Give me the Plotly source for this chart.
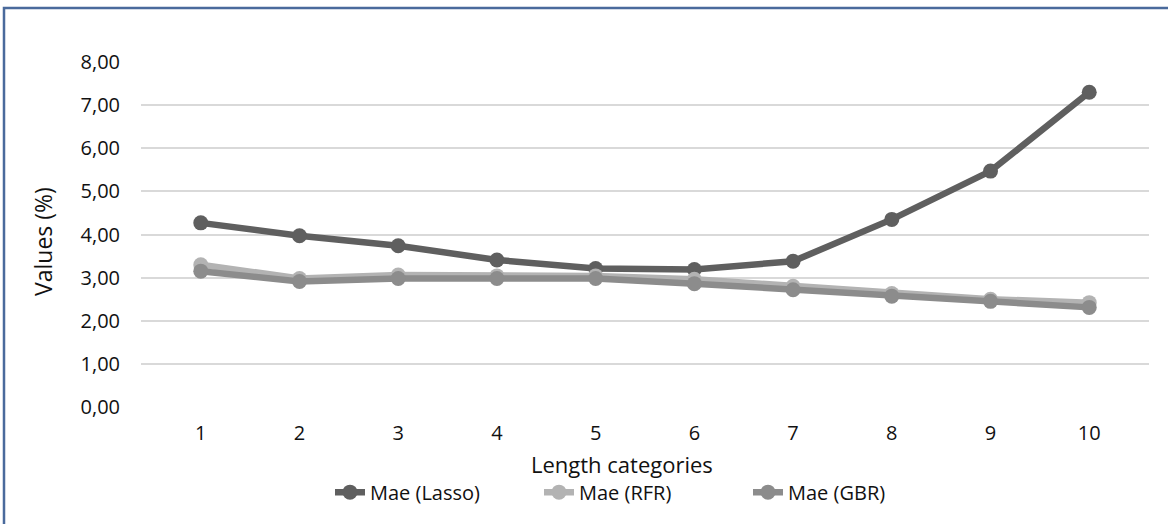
import plotly.graph_objects as go

categories = ["1", "2", "3", "4", "5", "6", "7", "8", "9", "10"]
mae_lasso = [4.27, 3.97, 3.74, 3.41, 3.21, 3.19, 3.38, 4.35, 5.47, 7.30]
mae_rfr = [3.30, 2.98, 3.06, 3.04, 3.04, 2.96, 2.80, 2.63, 2.50, 2.42]
mae_gbr = [3.15, 2.91, 2.98, 2.98, 2.98, 2.86, 2.72, 2.57, 2.45, 2.31]
y_ticks = [0, 1, 2, 3, 4, 5, 6, 7, 8]

W, H = 1168, 524
L, R, T, B = 141, 19, 62, 103.5
pw, ph = W - L - R, H - T - B

def px_x(p):
    return (p - L) / pw

def px_y(p):
    return (H - B - p) / ph

FONT = "Open Sans"
TXT = "#111111"

fig = go.Figure()
series = [
    ("Mae (Lasso)", mae_lasso, "#5f5f5f"),
    ("Mae (RFR)", mae_rfr, "#b3b3b3"),
    ("Mae (GBR)", mae_gbr, "#8c8c8c"),
]
for name, vals, col in series:
    fig.add_trace(go.Scatter(
        x=categories, y=vals, name=name, mode="lines+markers",
        line=dict(color=col, width=6.5),
        marker=dict(color=col, size=15),
    ))

fig.update_layout(
    width=W, height=H,
    margin=dict(l=L, r=R, t=T, b=B),
    paper_bgcolor="white", plot_bgcolor="white",
    separators=",.",
    font=dict(family=FONT, size=20, color=TXT),
    showlegend=True,
    legend=dict(
        orientation="h", xanchor="left", yanchor="middle",
        x=px_x(330), y=px_y(509),
        font=dict(size=20, color=TXT),
        bgcolor="rgba(0,0,0,0)",
        entrywidth=164, tracegroupgap=0,
    ),
    xaxis=dict(
        type="category", showgrid=False, zeroline=False, showline=False,
        ticks="", tickfont=dict(size=20, color=TXT), ticklabelstandoff=12,
    ),
    yaxis=dict(
        range=[0, 8], tickvals=y_ticks, tickformat=".2f",
        showgrid=True, gridcolor="#d9d9d9", gridwidth=2,
        zeroline=False, showline=False, ticks="",
        tickfont=dict(size=20, color=TXT), ticklabelstandoff=20,
    ),
    annotations=[
        dict(text="Length categories", xref="paper", yref="paper",
             x=px_x(622), y=px_y(480), xanchor="center", yanchor="middle",
             showarrow=False, font=dict(size=22, color=TXT)),
        dict(text="Values (%)", xref="paper", yref="paper",
             x=px_x(43), y=px_y(249), xanchor="center", yanchor="middle",
             textangle=-90, showarrow=False, font=dict(size=23, color=TXT)),
    ],
    shapes=[
        dict(type="rect", xref="paper", yref="paper",
             x0=px_x(4), x1=px_x(1300), y0=px_y(620), y1=px_y(6),
             line=dict(color="#4a6a9c", width=2.5), fillcolor="rgba(0,0,0,0)",
             layer="above"),
    ],
)

fig.write_html("out.html")
